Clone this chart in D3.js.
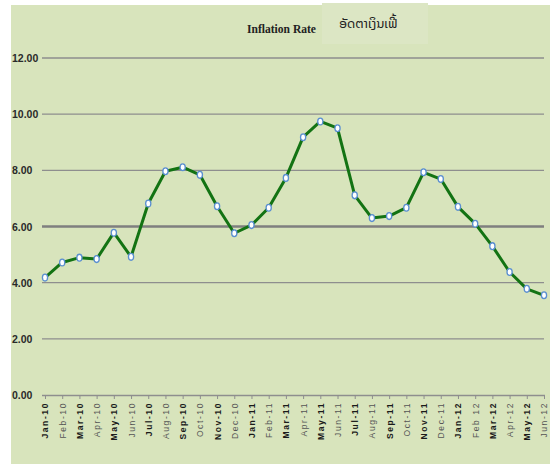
<!DOCTYPE html>
<html>
<head>
<meta charset="utf-8">
<script src="https://cdn.jsdelivr.net/npm/d3@7"></script>
<style>
  body { margin: 0; background: #fff; }
  svg { display: block; }
</style>
</head>
<body>
<script>
const months = ["Jan-10", "Feb-10", "Mar-10", "Apr-10", "May-10", "Jun-10", "Jul-10", "Aug-10", "Sep-10", "Oct-10",
  "Nov-10", "Dec-10", "Jan-11", "Feb-11", "Mar-11", "Apr-11", "May-11", "Jun-11", "Jul-11", "Aug-11",
  "Sep-11", "Oct-11", "Nov-11", "Dec-11", "Jan-12", "Feb 12", "Mar-12", "Apr-12", "May-12", "Jun-12"];
const inflation = [4.18, 4.72, 4.89, 4.84, 5.78, 4.92, 6.82, 7.97, 8.11, 7.84,
  6.72, 5.76, 6.05, 6.67, 7.73, 9.18, 9.74, 9.5, 7.11, 6.3,
  6.37, 6.67, 7.93, 7.69, 6.7, 6.1, 5.3, 4.38, 3.78, 3.55];
const yTicks = [0, 2, 4, 6, 8, 10, 12];

const width = 550;
const height = 464;

const svg = d3.select("body").append("svg")
  .attr("width", width)
  .attr("height", height);

// background panel
svg.append("rect")
  .attr("x", 11).attr("y", 5)
  .attr("width", width - 11).attr("height", height - 5)
  .attr("fill", "#d8e4bc");

// lighter box behind the Lao title
svg.append("rect")
  .attr("x", 322).attr("y", 3)
  .attr("width", 106).attr("height", 41)
  .attr("fill", "#dce6c4");

const x = d3.scalePoint().domain(months).range([45, 544]);
const y = d3.scaleLinear().domain([0, 12]).range([395, 58]);

// gridlines
svg.append("g")
  .selectAll("line")
  .data(yTicks.filter((d) => d > 0))
  .join("line")
  .attr("x1", 42).attr("x2", 544)
  .attr("y1", (d) => y(d)).attr("y2", (d) => y(d))
  .attr("stroke", (d) => (d === 6 ? "#7f7f7f" : "#8e8e8e"))
  .attr("stroke-width", (d) => (d === 6 ? 2.6 : 1.3));

// y labels
svg.append("g")
  .selectAll("text")
  .data(yTicks)
  .join("text")
  .attr("x", 12)
  .attr("y", (d) => y(d) + 4)
  .attr("font-family", "Liberation Sans Narrow, Liberation Sans, sans-serif")
  .attr("font-weight", "bold")
  .attr("font-size", 10.5)
  .attr("fill", "#2a2a2a")
  .text((d) => d.toFixed(2));

// x axis
const xAxis = svg.append("g")
  .attr("transform", `translate(0,${y(0)})`)
  .call(d3.axisBottom(x).tickSize(4).tickPadding(3).tickSizeOuter(0));
xAxis.select(".domain").attr("stroke", "#8e8e8e").attr("stroke-width", 1.3)
  .attr("d", "M42,0.5H545");
xAxis.selectAll(".tick line").attr("stroke", "#8e8e8e");
xAxis.selectAll(".tick text")
  .attr("transform", "rotate(-90)")
  .attr("x", -7)
  .attr("y", 0)
  .attr("dy", "0.35em")
  .attr("text-anchor", "end")
  .attr("font-family", "Liberation Sans, sans-serif")
  .attr("font-size", 8.5)
  .attr("letter-spacing", 1.6)
  .attr("font-weight", (d, i) => (i % 2 === 0 ? "bold" : "normal"))
  .attr("fill", (d, i) => (i % 2 === 0 ? "#1a1a1a" : "#555"));

// line
const line = d3.line()
  .x((d, i) => x(months[i]))
  .y((d) => y(d));

svg.append("path")
  .datum(inflation)
  .attr("d", line)
  .attr("fill", "none")
  .attr("stroke", "#137313")
  .attr("stroke-width", 3)
  .attr("stroke-linejoin", "round");

// markers
svg.append("g")
  .selectAll("ellipse")
  .data(inflation)
  .join("ellipse")
  .attr("cx", (d, i) => x(months[i]))
  .attr("cy", (d) => y(d))
  .attr("rx", 2.6).attr("ry", 3.4)
  .attr("fill", "#ffffff")
  .attr("stroke", "#5b8fd0")
  .attr("stroke-width", 1.3);

// titles
svg.append("text")
  .attr("x", 247).attr("y", 33)
  .attr("font-family", "Liberation Serif, serif")
  .attr("font-weight", "bold")
  .attr("font-size", 13)
  .attr("textLength", 69)
  .attr("lengthAdjust", "spacingAndGlyphs")
  .attr("fill", "#222")
  .text("Inflation Rate");

svg.append("text")
  .attr("x", 339).attr("y", 28)
  .attr("font-family", "Noto Sans Lao, DejaVu Sans, sans-serif")
  .attr("font-size", 13)
  .attr("fill", "#222")
  .text("ອັດຕາເງິນເຟີ້");
</script>
</body>
</html>
